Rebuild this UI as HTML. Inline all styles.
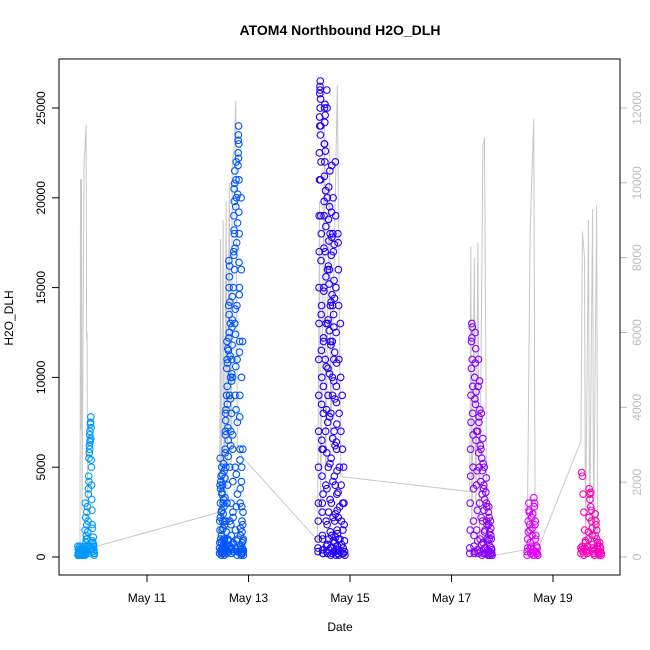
<!DOCTYPE html>
<html><head><meta charset="utf-8"><style>
body{margin:0;background:#fff;}
svg{display:block;font-family:"Liberation Sans",sans-serif;}
</style></head><body>
<svg id="chart" width="650" height="650">
<text x="340" y="35" text-anchor="middle" font-size="14" font-weight="bold">ATOM4 Northbound H2O_DLH</text>
<text x="340" y="631" text-anchor="middle" font-size="12">Date</text>
<text transform="translate(13,318) rotate(-90)" text-anchor="middle" font-size="12">H2O_DLH</text>
<g id="gray"></g>
<g id="pts"></g>
<g id="axes"></g>
<rect x="59" y="59" width="561" height="516" fill="none" stroke="#000"/>
</svg>
<script>
const xTickDays=[11,13,15,17,19];
const xTickLabels=["May 11","May 13","May 15","May 17","May 19"];
const yTicks=[0,5000,10000,15000,20000,25000];
const y2Ticks=[0,2000,4000,6000,8000,10000,12000];
const clusterStarts=[9.64,12.43,14.37,17.36,18.49,19.55];
const clusterEnds=[9.96,12.9,14.9,17.8,18.7,19.95];
const extraStarts=[9.64,12.43,14.37,17.36,18.49,19.55];
const extraEnds=[9.96,12.9,14.78,17.8,18.7,19.95];
const clusterColors=["#0099ff","#0055ff","#2200ff","#8800ff","#dd00ff","#ff00bb"];
const c1Values=[0.6,0.4,0.2,0.5,0.3,0.1,0.6,0.3,0.2,0.4,0.1,0.3,0.5,0.2,0.1,0.3,0.2,0.4,0.1,0.3,0.2,0.5,0.3,1.5,3.0,2.2,0.8,1.2,0.4,2.5,1.0,0.3,0.6,2.0,3.5,4.5,5.5,6.2,6.8,7.0,6.5,7.5,7.8,7.2,5.0,3.2,1.8,0.9,0.5,0.3,1.1,0.7,0.4,0.2];
const c1Extra=[0.1,0.2,0.1,0.3,0.2,0.1,0.2,0.4,0.1,0.2,0.3,0.1,0.2,0.1,0.3,0.2,0.1,0.4,0.2,0.1,0.6,0.3,1.0,1.8,0.5,2.8,1.4,0.2,3.8,4.2,5.8,6.0,6.4,7.4,6.6,5.4,4.0,2.6,1.6,0.8,0.3,0.6,0.2,0.1];
const c2Values=[0.5,2,4,5.5,3,1,0.3,4.5,2.5,0.8,5,3.5,1.5,0.2,4,2,0.6,3,5.2,1,0.4,2.8,4.8,0.9,0.2,1.8,3.3,6,7,8,5,2,0.5,9,10.5,12,11,8.5,4,1,0.3,6.5,11.5,14,16.5,15,12.5,9,5,2,0.6,13,10,7,3,1.2,0.4,8,11,12.8,14.5,10,6,2.5,0.8,0.3,15,17,19,20.5,18,16,13,9,5,1.5,0.5,19.5,21,22,20,17.5,14,11,7.5,3.5,1,0.3,22.5,23.5,24,23,21,18,15,12,9,6,3,1.2,0.4,0.2,20,16,10,5,2,0.8,0.3,12,6,2.5,1,0.3];
const c2Extra=[0.2,0.8,1.5,2.2,3.8,4.2,0.4,0.1,1.2,2.6,3.6,4.6,0.5,0.2,1.6,2.4,3.2,0.7,0.3,0.1,1.0,2.0,4.4,5.8,6.8,7.6,8.2,1.4,0.4,0.2,3.0,9.5,10.8,11.6,7.2,5.6,0.9,0.3,12.2,13.5,15.6,16.2,14.2,11.2,8.8,6.2,1.8,0.5,0.2,9.8,10.2,11.8,13.2,6.8,4.2,2.2,0.7,0.3,16.8,18.2,19.8,20.8,21.5,17.2,13.8,12.4,10.6,8.2,4.6,2.8,0.9,0.3,0.1,18.6,20.2,21.8,23.2,22.2,19.2,16.4,14.6,11.4,7.8,5.4,3.8,1.6,0.6,0.2,0.1,4.2,2.8,1.4,0.5,0.2,1.8,0.9,0.4,0.1];
const c3Values=[0.5,2,5,9,13,17,21,24,26,26.5,25.5,24,22,18,14,10,6,3,1,0.4,0.2,8,12,15,19,23,25,22,17,11,7,4,2,0.6,0.3,26,25,20,16,13,9,5,2.5,1,0.4,16,19.5,21.5,18,14,12,8,5.5,3,1.2,0.5,0.2,10,14,18,20,17,13.5,11,7,4.5,2,0.8,0.3,22,19,15,12.5,9.5,6,3.5,1.5,0.6,0.2,18,17.5,16,14,11,8,5,2.8,1,0.3,13,10,7,4,2,0.7,0.2,9,6,3,1.5,0.5,0.2,5,3,1.8,0.9,0.3,0.1];
const c3Extra=[0.3,1,3,7,11,15,19,22.5,24.5,25.8,26.2,25,23.5,21,19,16.5,13.5,11.5,8.5,6.5,4.5,2.5,1.2,0.4,0.2,3.5,6,9.5,12.2,14.8,17.2,19.8,21.2,23,24.2,25.2,24.6,22.6,20.4,18.4,15.6,13,10.6,8.2,5.8,3.8,1.8,0.7,0.2,7.5,10.5,13.2,16.2,18.8,20.6,17.6,15.2,12.6,10.2,7.8,5.2,3.2,1.4,0.5,0.1,11.8,14.2,16.8,19.2,21.8,17.8,14.6,12,9,6.6,4.2,2.2,0.9,0.3,9.8,12.8,15.4,17.4,14.4,11.4,8.8,6.2,4,2.4,1.1,0.4,0.1,6.4,8.6,10.8,7.4,4.8,2.6,1.3,0.6,0.2,3.6,2.2,1.0,0.4,0.1];
const c4Values=[0.5,3,6,9,12,13,11,8,5,2,0.6,0.2,10,12.5,8.5,6.5,4,1.5,0.4,7,9.5,11,7.5,5,3,1,0.3,6,8,5.5,3.5,2,0.8,0.2,4,5,3.2,1.5,0.5,0.2,3,2,1,0.4,0.1,2.5,1.8,1,0.3,0.1,2,1.2,0.5,0.2,0.1];
const c4Extra=[0.2,1.5,4.5,7.5,10.5,12.2,12.8,9.5,6.8,3.8,1.2,0.3,8.8,10.8,11.6,9.2,7,4.8,2.6,0.9,0.2,5.8,7.8,9.8,8.2,6.2,4.2,2.2,0.7,0.1,4.8,6.6,5.2,3.8,2.6,1.4,0.5,0.2,3.6,4.4,2.8,1.8,0.9,0.3,0.1,2.8,2.2,1.4,0.6,0.2,1.6,1.0,0.4,0.1];
const c5Values=[0.3,1,2,3,2.5,1.5,0.5,0.2,2.2,1.2,0.4,0.1,3.3,2.8,1.8,1,0.3,0.2,0.5,0.1];
const c5Extra=[0.1,0.5,1.4,2.6,1.8,0.8,0.2,0.6,1.6,2.4,0.3,0.1,3.0,2.0,1.2,0.6,0.2,0.1];
const c6Values=[0.5,4.7,4.5,3.5,2.5,1.5,0.8,0.3,0.2,0.6,1,3.8,3.5,2.8,2,1.2,0.5,0.2,0.4,2.4,1.8,1,0.6,0.3,0.1,0.8,0.5,0.2];
const c6Extra=[0.2,0.4,0.6,0.3,0.1,0.5,0.9,0.4,0.2,0.6,1.4,2.2,3.2,3.6,2.6,1.6,0.7,0.3,0.1,1.2,2.0,1.5,0.8,0.4,0.2,0.6,0.3,0.1];
const grayDays=[9.68,9.69,9.70,9.71,9.72,9.76,9.78,9.80,9.81,9.82,9.83,9.96,12.43,12.45,12.46,12.50,12.52,12.56,12.58,12.62,12.66,12.68,12.72,12.75,12.78,12.86,14.36,14.40,14.42,14.5,14.52,14.6,14.62,14.75,14.82,17.36,17.38,17.40,17.45,17.48,17.52,17.55,17.62,17.65,17.70,17.78,18.49,18.55,18.62,18.65,18.70,19.55,19.58,19.62,19.64,19.70,19.72,19.78,19.80,19.86,19.88];
const grayVals=[200,10100,3400,10100,1250,10500,11000,11550,5800,6000,200,270,1200,8500,500,9000,800,9500,1500,10000,2500,10500,11000,12200,3000,2700,450,9500,1000,11500,2000,11000,3000,12600,2150,1750,8300,500,8000,1000,8400,500,11000,11200,0,30,200,8700,11700,50,200,3100,8700,8000,500,9000,400,9300,500,9400,0];

const NS="http://www.w3.org/2000/svg";
function xScale(d){return 147+(d-11)*50.75;}
function yScale(v){return 557-v*449/25000;}
function y2Scale(v){return 557-v*449/12000;}
function mk(tag,attrs,parent){const e=document.createElementNS(NS,tag);for(const k in attrs)e.setAttribute(k,attrs[k]);parent.appendChild(e);return e;}
const axes=document.getElementById('axes');
xTickDays.forEach((d,i)=>{
  const x=xScale(d);
  const t=mk('line',{x1:x,x2:x,y1:575,y2:582,stroke:'#000'},axes);
  
  
  const l=mk('text',{x:x,y:602,'text-anchor':'middle','font-size':12},axes);
  l.textContent=xTickLabels[i];
  
  
});
yTicks.forEach(v=>{
  const y=yScale(v);
  const t=mk('line',{x1:52,x2:59,y1:y,y2:y,stroke:'#000'},axes);
  
  
  const l=mk('text',{transform:`translate(45,${y}) rotate(-90)`,'text-anchor':'middle','font-size':12},axes);
  l.textContent=String(v);
  
  
});
y2Ticks.forEach(v=>{
  const y=y2Scale(v);
  const t=mk('line',{x1:620,x2:627,y1:y,y2:y,stroke:'#bbb'},axes);
  
  
  const l=mk('text',{transform:`translate(641,${y}) rotate(-90)`,'text-anchor':'middle','font-size':12,fill:'#bbb'},axes);
  l.textContent=String(v);
  
  
});
const gray=document.getElementById('gray');
const gl=mk('polyline',{points:grayDays.map((d,i)=>xScale(d)+','+y2Scale(grayVals[i])).join(' '),fill:'none',stroke:'#c8c8c8','stroke-width':1},gray);


const pts=document.getElementById('pts');
function drawSet(vals,s,e,color){
  const n=vals.length;
  vals.forEach((v,i)=>{
    const d=s+(e-s)*i/(n-1);
    const c=mk('circle',{cx:xScale(d),cy:yScale(v*1000),r:3.3,fill:'none',stroke:color,'stroke-width':1.1},pts);
    
    
  });
}
[c1Values,c2Values,c3Values,c4Values,c5Values,c6Values].forEach((vals,ci)=>drawSet(vals,clusterStarts[ci],clusterEnds[ci],clusterColors[ci]));
[c1Extra,c2Extra,c3Extra,c4Extra,c5Extra,c6Extra].forEach((vals,ci)=>drawSet(vals,extraStarts[ci],extraEnds[ci],clusterColors[ci]));
</script>
</body></html>
